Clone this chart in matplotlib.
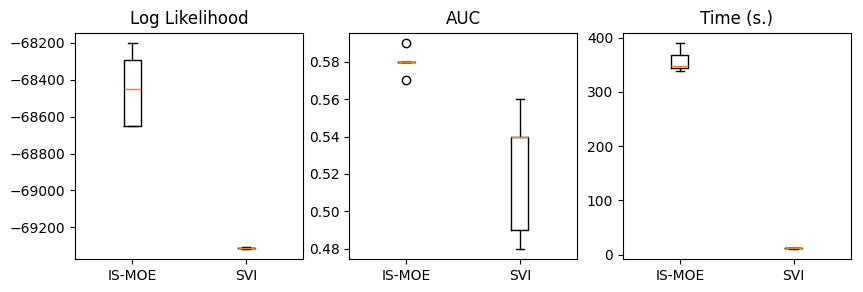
import matplotlib.pyplot as plt

# Results from 5 runs of each method
methods = ["IS-MOE", "SVI"]

loglik_ismoe = [-68650, -68650, -68450, -68290, -68200]
loglik_svi = [-69316, -69313, -69312, -69310, -69308]

auc_ismoe = [0.57, 0.58, 0.58, 0.58, 0.59]
auc_svi = [0.48, 0.49, 0.54, 0.54, 0.56]

time_ismoe = [339, 344, 347, 368, 390]
time_svi = [11, 12, 12, 13, 13]

titles = ["Log Likelihood", "AUC", "Time (s.)"]


def results_graph():
    fig, axes = plt.subplots(1, 3, figsize=(8.63, 2.92))

    panels = [
        [loglik_ismoe, loglik_svi],
        [auc_ismoe, auc_svi],
        [time_ismoe, time_svi],
    ]

    for ax, data, title in zip(axes, panels, titles):
        ax.boxplot(data)
        ax.set_xticks([1, 2])
        ax.set_xticklabels(methods)
        ax.set_title(title)

    plt.subplots_adjust(left=0.0873, right=0.9857, top=0.888, bottom=0.113, wspace=0.202)
    plt.savefig("out.png", dpi=100)


if __name__ == "__main__":
    results_graph()
